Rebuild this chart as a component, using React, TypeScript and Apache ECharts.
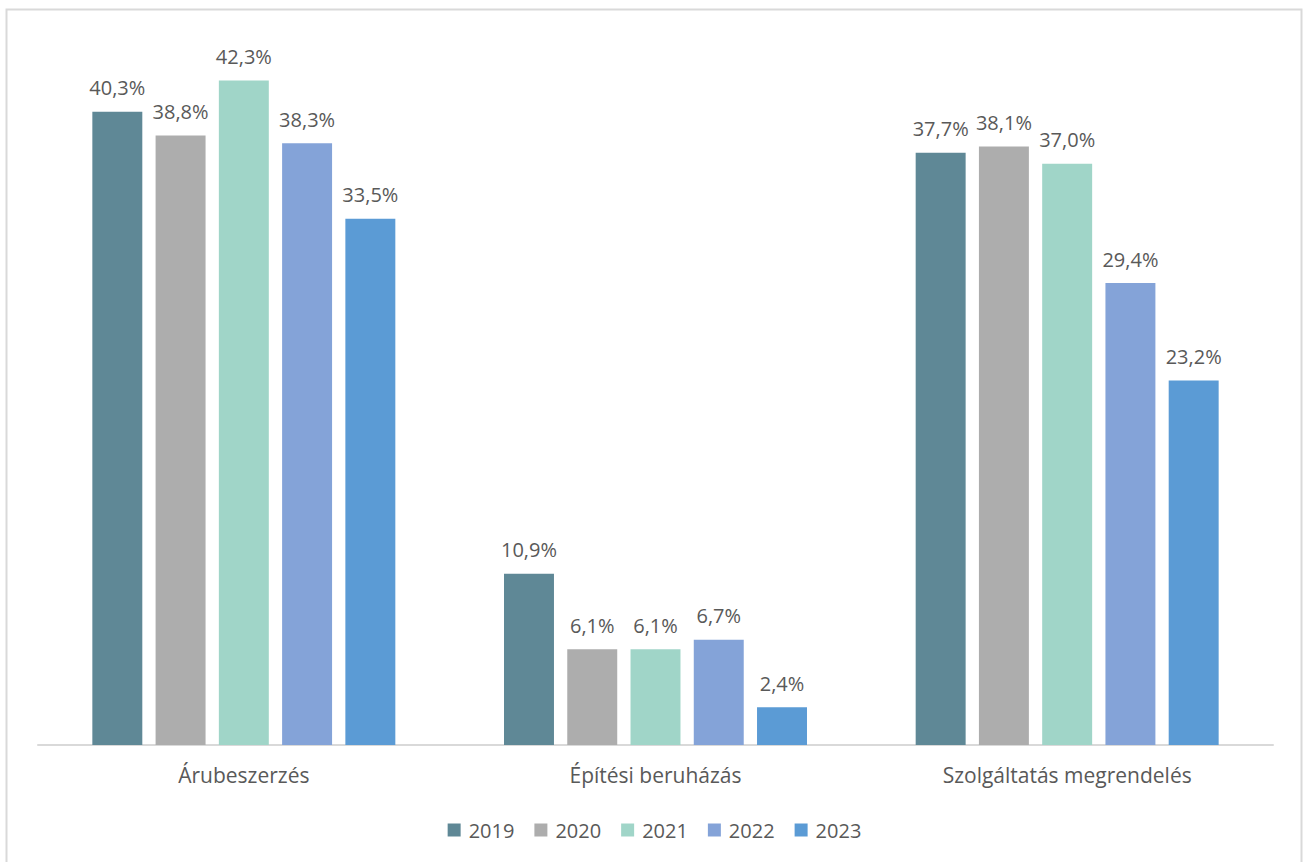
import React, { useEffect, useRef } from "react";
import * as echarts from "echarts";

const categories = ["Árubeszerzés", "Építési beruházás", "Szolgáltatás megrendelés"];
const years = ["2019", "2020", "2021", "2022", "2023"];
const values2019 = [40.3, 10.9, 37.7];
const values2020 = [38.8, 6.1, 38.1];
const values2021 = [42.3, 6.1, 37.0];
const values2022 = [38.3, 6.7, 29.4];
const values2023 = [33.5, 2.4, 23.2];
const seriesValues = [values2019, values2020, values2021, values2022, values2023];
const colors = ["#5F8896", "#ADADAD", "#A0D5C8", "#84A3D8", "#5B9BD5"];

const FONT = "'Open Sans', 'Noto Sans', sans-serif";
const TEXT = "#595959";

export default function App() {
  const ref = useRef<HTMLDivElement>(null);
  useEffect(() => {
    if (!ref.current) return;
    const chart = echarts.init(ref.current, null, { renderer: "svg" });
    chart.setOption({
      animation: false,
      backgroundColor: "#ffffff",
      textStyle: { fontFamily: FONT, color: TEXT },
      graphic: [
        {
          type: "rect",
          shape: { x: 6.5, y: 9.5, width: 1295, height: 870 },
          style: { fill: "none", stroke: "#D9D9D9", lineWidth: 2 },
          silent: true,
        },
      ],
      grid: { left: 38, right: 36, top: 38, bottom: 117, containLabel: false },
      legend: {
        bottom: 17,
        left: "center",
        itemWidth: 13,
        itemHeight: 13,
        itemGap: 20,
        icon: "rect",
        textStyle: { fontFamily: FONT, fontSize: 20, color: TEXT, padding: [0, 0, 0, 3] },
        data: years,
      },
      xAxis: {
        type: "category",
        data: categories,
        axisLine: { lineStyle: { color: "#D9D9D9", width: 2 } },
        axisTick: { show: false },
        axisLabel: { color: TEXT, fontSize: 21, fontFamily: FONT, margin: 19 },
      },
      yAxis: {
        type: "value",
        min: 0,
        max: 45,
        show: false,
        splitLine: { show: false },
      },
      series: years.map((y, i) => ({
        name: y,
        type: "bar",
        data: seriesValues[i],
        barGap: "26.6%",
        barCategoryGap: "26.4%",
        itemStyle: { color: colors[i] },
        label: {
          show: true,
          position: "top",
          distance: 14,
          color: TEXT,
          fontSize: 20,
          fontFamily: FONT,
          formatter: (p: any) => p.value.toFixed(1).replace(".", ",") + "%",
        },
      })),
    });
    return () => chart.dispose();
  }, []);
  return (
    <div
      ref={ref}
      style={{ position: "fixed", left: 0, top: 0, width: 1309, height: 862 }}
    />
  );
}
